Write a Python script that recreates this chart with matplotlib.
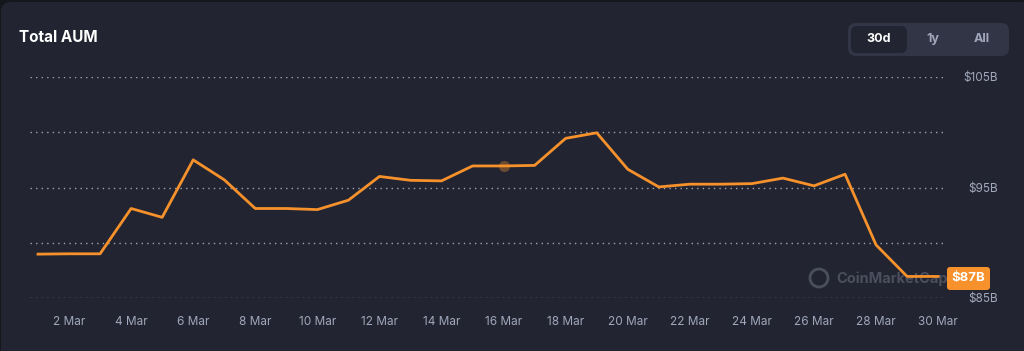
import matplotlib
matplotlib.use("Agg")
import matplotlib.pyplot as plt
from matplotlib.patches import FancyBboxPatch, Circle

plt.rcParams['font.family'] = ['Inter', 'DejaVu Sans']

# data (daily, March)
days = list(range(1, 31))
aum = [88.97, 89.0, 89.0, 93.1, 92.3, 97.5, 95.7, 93.1, 93.1, 93.0,
       93.85, 96.0, 95.65, 95.6, 96.95, 96.95, 97.0, 99.45, 99.95, 96.65,
       95.05, 95.3, 95.3, 95.35, 95.85, 95.15, 96.2, 89.8, 86.95, 86.95]
tick_days = list(range(2, 31, 2))
tick_labels = [f"{d} Mar" for d in tick_days]
grid_levels = [85, 90, 95, 100, 105]
grid_labels = ['$85B', '', '$95B', '', '$105B']
last_label = '$87B'
hover_day = 16

BG = '#222531'
ORANGE = '#f6912c'
GREY = '#a1a7bb'

W, H = 1024, 351
fig = plt.figure(figsize=(W / 100, H / 100), dpi=100)
fig.patch.set_facecolor('#16171d')
px = fig.dpi_scale_trans


def box(x0, y0, x1, y1, color, r, z=0):
    p = FancyBboxPatch((x0 / 100, (H - y1) / 100), (x1 - x0) / 100, (y1 - y0) / 100,
                       boxstyle=f"round,pad=0,rounding_size={r / 100}",
                       transform=px, facecolor=color, edgecolor='none', zorder=z)
    fig.add_artist(p)
    return p


box(1, 2, 1030, 360, BG, 10)

# watermark (drawn under the chart line)
fig.add_artist(Circle((819 / 100, (H - 278) / 100), 0.09, transform=px, fill=False,
                      ec='#4a4e5d', lw=2, zorder=1))
fig.text(836 / W, (H - 279) / H, 'CoinMarketCap', fontsize=10.5, fontweight='bold',
         color='#4a4e5d', ha='left', va='center', zorder=1)

# axes placed so pixel x=30..945, y=77..298
left, right, top, bottom = 30, 945, 77, 298
ax = fig.add_axes([left / W, (H - bottom) / H, (right - left) / W, (bottom - top) / H])
ax.set_zorder(3)
ax.set_facecolor('none')
for s in ax.spines.values():
    s.set_visible(False)

x_per_day = 31.04
ax.set_xlim(1 + (left - 38) / x_per_day, 1 + (right - 38) / x_per_day)
ax.set_ylim(85, 105)

for g in grid_levels:
    ax.axhline(g, color='#c0c4cf', lw=1.0, ls=(0, (1, 3)), alpha=0.8, zorder=1)

ax.plot(days, aum, color=ORANGE, lw=2.0, solid_joinstyle='round', zorder=3, clip_on=False)
ax.plot([hover_day], [aum[days.index(hover_day)]], 'o', ms=8, color=ORANGE, alpha=0.35,
        mec='none', zorder=4)

ax.set_xticks(tick_days)
ax.set_xticklabels(tick_labels)
ax.tick_params(axis='x', length=0, pad=13, labelsize=8.5, labelcolor=GREY)

ax.yaxis.tick_right()
ax.set_yticks(grid_levels)
ax.set_yticklabels(grid_labels)
ax.tick_params(axis='y', length=0, pad=38, labelsize=8.5, labelcolor=GREY)
for t in ax.get_yticklabels():
    t.set_horizontalalignment('right')

# last value badge
box(947, 267, 990, 290, ORANGE, 3, z=5)
fig.text(968.5 / W, (H - 278.5) / H, last_label, fontsize=9.5, fontweight='bold',
         color='white', ha='center', va='center', zorder=6)

# title
fig.text(19 / W, (H - 38) / H, 'Total AUM', fontsize=11, fontweight='bold',
         color='white', ha='left', va='center')

# range buttons
box(848, 23, 1009, 56, '#323546', 8)
box(851, 26, 907, 53, BG, 6)
fig.text(879 / W, (H - 39) / H, '30d', fontsize=9, fontweight='bold', color='white',
         ha='center', va='center')
fig.text(933 / W, (H - 39) / H, '1y', fontsize=9, fontweight='bold', color=GREY,
         ha='center', va='center')
fig.text(982 / W, (H - 39) / H, 'All', fontsize=9, fontweight='bold', color=GREY,
         ha='center', va='center')

fig.savefig('out.png', dpi=100, facecolor=fig.get_facecolor())
